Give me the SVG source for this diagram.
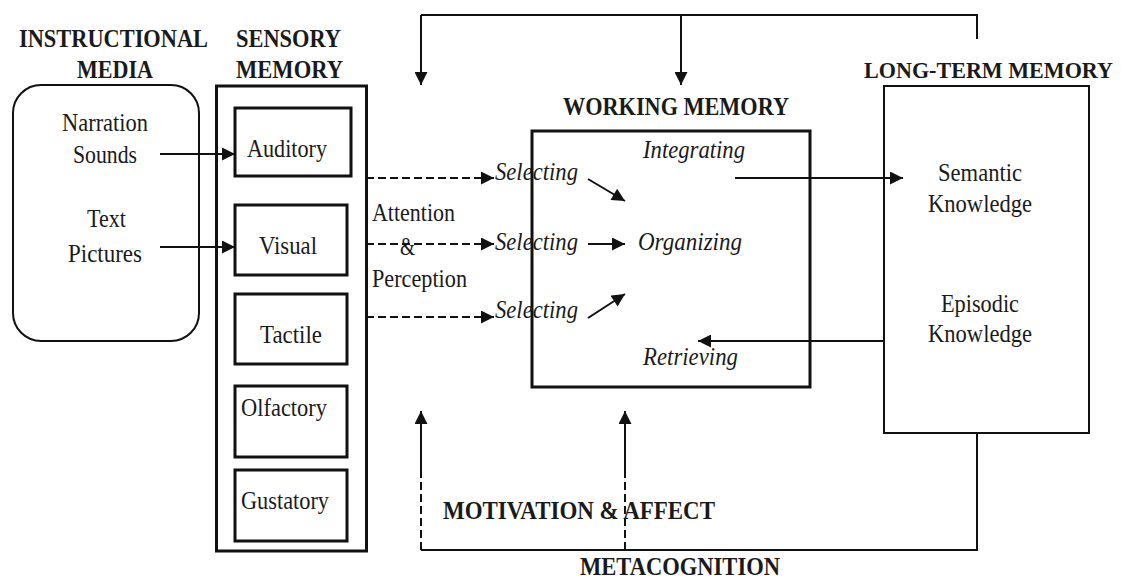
<svg xmlns="http://www.w3.org/2000/svg" width="1121" height="579" viewBox="0 0 1121 579">
<style>
.t{font-family:"Liberation Serif","Times New Roman",serif;font-size:26px;fill:#1a1a1a}
.b{font-weight:bold;font-size:26px}
.i{font-style:italic}
.box{fill:none;stroke:#111;stroke-width:3}
.thin{fill:none;stroke:#111;stroke-width:2}
.ln{fill:none;stroke:#111;stroke-width:2}
.ar{marker-end:url(#ah)}
.dash{stroke-dasharray:8 4}
</style>
<defs>
<marker id="ah" viewBox="0 0 10 10" refX="10" refY="5" markerWidth="14" markerHeight="13" markerUnits="userSpaceOnUse" orient="auto">
<path d="M0,0 L10,5 L0,10 Z" fill="#111"/>
</marker>
</defs>
<rect width="1121" height="579" fill="#fff"/>

<g id="titles">
<text class="t b" x="19" y="47" textLength="189" lengthAdjust="spacingAndGlyphs">INSTRUCTIONAL</text>
<text class="t b" x="77" y="78" textLength="76" lengthAdjust="spacingAndGlyphs">MEDIA</text>
<text class="t b" x="236" y="47" textLength="105" lengthAdjust="spacingAndGlyphs">SENSORY</text>
<text class="t b" x="236" y="78" textLength="107" lengthAdjust="spacingAndGlyphs">MEMORY</text>
<text class="t b" x="563" y="115" textLength="226" lengthAdjust="spacingAndGlyphs">WORKING MEMORY</text>
<text class="t b" x="864" y="78" style="font-size:23px" textLength="249" lengthAdjust="spacingAndGlyphs">LONG-TERM MEMORY</text>
<text class="t b" x="443" y="519" textLength="272" lengthAdjust="spacingAndGlyphs">MOTIVATION &amp; AFFECT</text>
<text class="t b" x="580" y="575" textLength="200" lengthAdjust="spacingAndGlyphs">METACOGNITION</text>
</g>

<g id="instructional-media">
<rect class="thin" x="13" y="85" width="186" height="256" rx="28"/>
<text class="t" x="62" y="131" textLength="86" lengthAdjust="spacingAndGlyphs">Narration</text>
<text class="t" x="73" y="163" textLength="64" lengthAdjust="spacingAndGlyphs">Sounds</text>
<text class="t" x="87" y="227" textLength="39" lengthAdjust="spacingAndGlyphs">Text</text>
<text class="t" x="68" y="262" textLength="74" lengthAdjust="spacingAndGlyphs">Pictures</text>
</g>

<g id="sensory-memory">
<rect class="box" x="216.5" y="86" width="150" height="465"/>
</g>
<g id="auditory">
<rect class="box" x="235" y="108" width="116" height="68"/>
<text class="t" x="247" y="157" textLength="80" lengthAdjust="spacingAndGlyphs">Auditory</text>
</g>
<g id="visual">
<rect class="box" x="235" y="205" width="112" height="70"/>
<text class="t" x="259" y="254" textLength="58" lengthAdjust="spacingAndGlyphs">Visual</text>
</g>
<g id="tactile">
<rect class="box" x="235" y="294" width="112" height="70"/>
<text class="t" x="260" y="343" textLength="62" lengthAdjust="spacingAndGlyphs">Tactile</text>
</g>
<g id="olfactory">
<rect class="box" x="235" y="386" width="112" height="71"/>
<text class="t" x="241" y="416" textLength="86" lengthAdjust="spacingAndGlyphs">Olfactory</text>
</g>
<g id="gustatory">
<rect class="box" x="235" y="470" width="112" height="71"/>
<text class="t" x="241" y="509" textLength="88" lengthAdjust="spacingAndGlyphs">Gustatory</text>
</g>

<g id="attention-perception">
<text class="t" x="372" y="221" textLength="83" lengthAdjust="spacingAndGlyphs">Attention</text>
<text class="t" x="400" y="255" textLength="15" lengthAdjust="spacingAndGlyphs">&amp;</text>
<text class="t" x="372" y="287" textLength="95" lengthAdjust="spacingAndGlyphs">Perception</text>
</g>

<g id="working-memory">
<rect class="box" x="532" y="131" width="278" height="256"/>
<text class="t i" x="495" y="180" textLength="83" lengthAdjust="spacingAndGlyphs">Selecting</text>
<text class="t i" x="495" y="250" textLength="83" lengthAdjust="spacingAndGlyphs">Selecting</text>
<text class="t i" x="495" y="318" textLength="83" lengthAdjust="spacingAndGlyphs">Selecting</text>
<text class="t i" x="643" y="158" textLength="102" lengthAdjust="spacingAndGlyphs">Integrating</text>
<text class="t i" x="638" y="250" textLength="104" lengthAdjust="spacingAndGlyphs">Organizing</text>
<text class="t i" x="643" y="365" textLength="95" lengthAdjust="spacingAndGlyphs">Retrieving</text>
</g>

<g id="long-term-memory">
<rect class="thin" x="884" y="86" width="205" height="347"/>
<text class="t" x="938" y="181" textLength="84" lengthAdjust="spacingAndGlyphs">Semantic</text>
<text class="t" x="928" y="212" textLength="104" lengthAdjust="spacingAndGlyphs">Knowledge</text>
<text class="t" x="941" y="312" textLength="78" lengthAdjust="spacingAndGlyphs">Episodic</text>
<text class="t" x="928" y="342" textLength="104" lengthAdjust="spacingAndGlyphs">Knowledge</text>
</g>

<g id="connectors">
<line class="ln ar" x1="160" y1="154" x2="235" y2="154"/>
<line class="ln ar" x1="160" y1="247" x2="235" y2="247"/>
<line class="ln ar dash" x1="366" y1="178" x2="494" y2="178"/>
<line class="ln ar dash" x1="366" y1="244" x2="494" y2="244"/>
<line class="ln ar dash" x1="366" y1="317" x2="494" y2="317"/>
<line class="ln ar" x1="588" y1="179" x2="625" y2="201"/>
<line class="ln ar" x1="588" y1="244" x2="625" y2="244"/>
<line class="ln ar" x1="588" y1="318" x2="625" y2="294"/>
<line class="ln ar" x1="735" y1="178" x2="903" y2="178"/>
<line class="ln ar" x1="884" y1="341" x2="698" y2="341"/>
<path class="ln" d="M421,15 H977 V39"/>
<line class="ln ar" x1="421" y1="15" x2="421" y2="85"/>
<line class="ln ar" x1="681" y1="15" x2="681" y2="85"/>
<path class="ln" d="M977,433 V550 H421"/>
<line class="ln dash" x1="421" y1="550" x2="421" y2="476"/>
<line class="ln ar" x1="421" y1="477" x2="421" y2="411"/>
<line class="ln dash" x1="625" y1="550" x2="625" y2="476"/>
<line class="ln ar" x1="625" y1="477" x2="625" y2="411"/>
</g>
</svg>
